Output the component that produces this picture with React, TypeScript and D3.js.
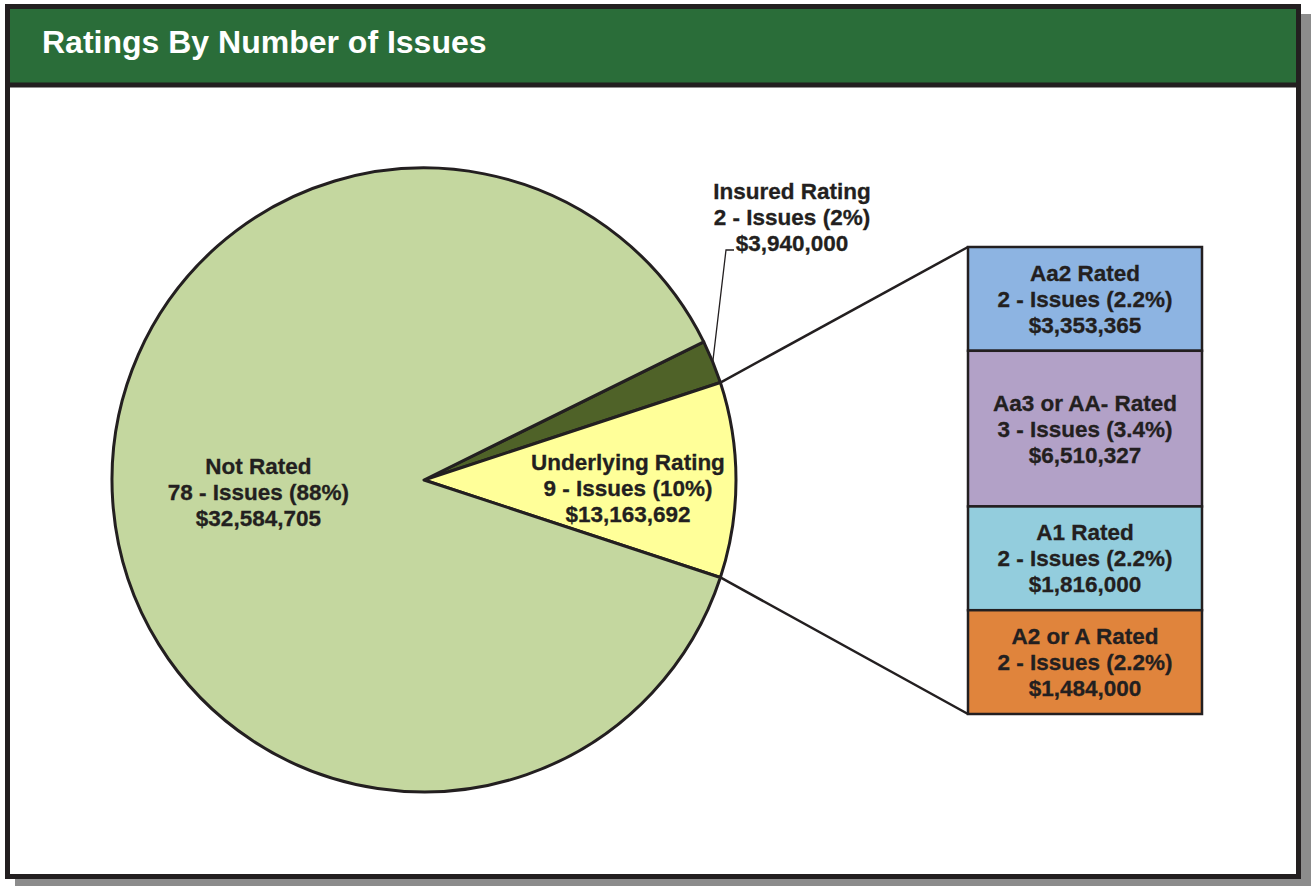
import React from 'react';
import * as d3 from 'd3';

// --------------------------------------------------------
// data
// --------------------------------------------------------
const pieNames = ['Insured Rating', 'Underlying Rating', 'Not Rated'];
const pieIssues = [2, 9, 78];
const piePct = ['2%', '10%', '88%'];
const pieAmounts = ['$3,940,000', '$13,163,692', '$32,584,705'];

const barNames = ['Aa2 Rated', 'Aa3 or AA- Rated', 'A1 Rated', 'A2 or A Rated'];
const barIssues = [2, 3, 2, 2];
const barPct = ['2.2%', '3.4%', '2.2%', '2.2%'];
const barAmounts = ['$3,353,365', '$6,510,327', '$1,816,000', '$1,484,000'];

const pieColors = ['#4f6228', '#ffff99', '#c4d79f'];
const barColors = ['#8db4e2', '#b2a1c7', '#93cddd', '#e0843c'];

const title = 'Ratings By Number of Issues';

// --------------------------------------------------------
// layout
// --------------------------------------------------------
const W = 1312;
const H = 886;
const ink = '#231f20';
const font = '"Liberation Sans", Arial, sans-serif';
const labelSize = 22.5;
const lineGap = 26;

const cx = 424;
const cy = 480;
const R = 312;

const barX = 968;
const barW = 234;
const barTop = 247;
const barBottom = 714;

function Label({ x, y, lines }: { x: number; y: number; lines: string[] }) {
  return (
    <text x={x} y={y} textAnchor="middle" fontFamily={font} fontWeight="bold"
      fontSize={labelSize} fill={ink} stroke={ink} strokeWidth={0.3}>
      {lines.map((l, i) => (
        <tspan key={i} x={x} y={y + (i - 1) * lineGap} dy="0.36em">{l}</tspan>
      ))}
    </text>
  );
}

export default function App() {
  const total = d3.sum(pieIssues);
  // centre the underlying slice on 3 o'clock
  const start = Math.PI / 2 - ((pieIssues[0] + pieIssues[1] / 2) / total) * 2 * Math.PI;
  const arcs = d3.pie<number>().sort(null)
    .startAngle(start).endAngle(start + 2 * Math.PI)(pieIssues);

  const arc = d3.arc<d3.PieArcDatum<number>>().innerRadius(0).outerRadius(R);
  const pt = (a: number, r: number) => [cx + Math.sin(a) * r, cy - Math.cos(a) * r];

  const y = d3.scaleLinear().domain([0, d3.sum(barIssues)]).range([barTop, barBottom]);
  const cum = d3.cumsum(barIssues);

  const under = arcs[1];
  const [ux0, uy0] = pt(under.startAngle, R);
  const [ux1, uy1] = pt(under.endAngle, R);

  const ins = arcs[0];
  const [ix, iy] = pt((ins.startAngle + ins.endAngle) / 2, R);

  const notArc = arcs[2];
  const [nx, ny] = pt((notArc.startAngle + notArc.endAngle) / 2, 166);
  const [ulx, uly] = pt((under.startAngle + under.endAngle) / 2, 204);

  return (
    <div style={{ position: 'absolute', left: 0, top: 0 }}>
      <svg width={W} height={H} style={{ display: 'block' }}>
        {/* shadow + frame */}
        <rect x={15} y={14} width={1296} height={872} fill="#8c8c8c" />
        <rect x={7.5} y={6.5} width={1291} height={870} fill="#fff" stroke={ink} strokeWidth={5} />
        <rect x={10} y={9} width={1286} height={74} fill="#2a6d39" />
        <line x1={10} x2={1296} y1={85} y2={85} stroke={ink} strokeWidth={5} />
        <text x={42} y={53} fontFamily={font} fontWeight="bold" fontSize={32} fill="#fff">{title}</text>

        {/* pie */}
        <g transform={`translate(${cx},${cy})`}>
          {arcs.map((a, i) => (
            <path key={i} d={arc(a) || ''} fill={pieColors[i]} stroke={ink}
              strokeWidth={3} strokeLinejoin="round" />
          ))}
        </g>

        {/* connectors to breakdown bar */}
        <line x1={ux0} y1={uy0} x2={barX} y2={barTop} stroke={ink} strokeWidth={2.5} />
        <line x1={ux1} y1={uy1} x2={barX} y2={barBottom} stroke={ink} strokeWidth={2.5} />

        {/* breakdown bar */}
        {barIssues.map((v, i) => {
          const y0 = y(cum[i] - v);
          const y1 = y(cum[i]);
          return (
            <g key={i}>
              <rect x={barX} y={y0} width={barW} height={y1 - y0} fill={barColors[i]}
                stroke={ink} strokeWidth={2.5} />
              <Label x={barX + barW / 2} y={(y0 + y1) / 2}
                lines={[barNames[i], `${v} - Issues (${barPct[i]})`, barAmounts[i]]} />
            </g>
          );
        })}

        {/* pie labels */}
        <Label x={nx} y={ny}
          lines={[pieNames[2], `${pieIssues[2]} - Issues (${piePct[2]})`, pieAmounts[2]]} />
        <Label x={ulx} y={uly + 8}
          lines={[pieNames[1], `${pieIssues[1]} - Issues (${piePct[1]})`, pieAmounts[1]]} />
        <Label x={792} y={217}
          lines={[pieNames[0], `${pieIssues[0]} - Issues (${piePct[0]})`, pieAmounts[0]]} />
        <polyline points={`${ix},${iy} 726,250 734,250`} fill="none" stroke={ink} strokeWidth={1.3} />
      </svg>
    </div>
  );
}
